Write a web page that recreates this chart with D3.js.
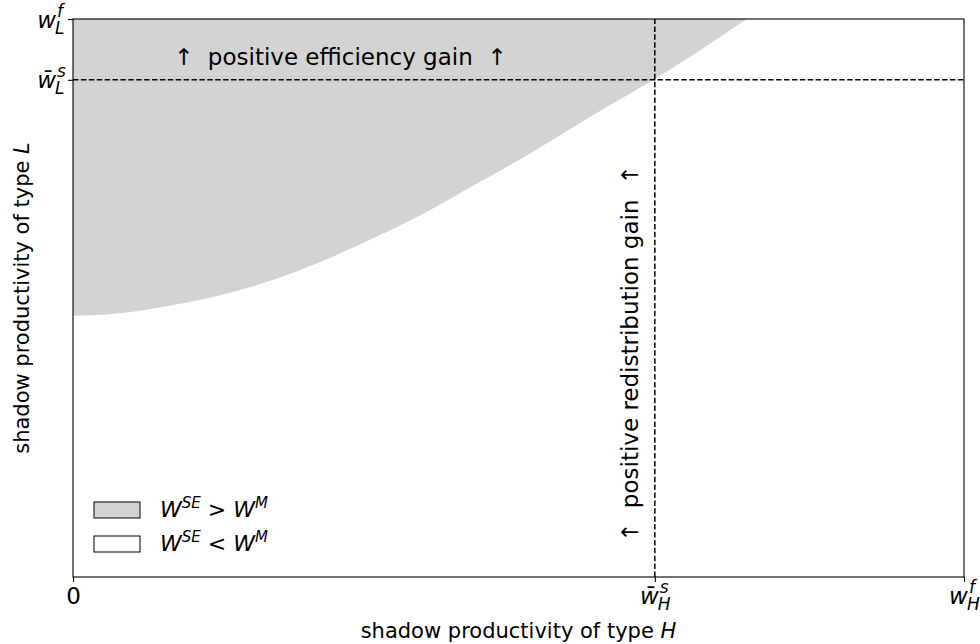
<!DOCTYPE html>
<meta charset="utf-8">
<script src="https://d3js.org/d3.v7.min.js"></script>
<style>
  body { margin: 0; background: #fff; }
  text { font-family: "DejaVu Sans", sans-serif; fill: #000; }
</style>
<div id="chart"></div>
<script>
// boundary between W^SE > W^M and W^SE < W^M
const boundaryX = [0, 0.05, 0.1, 0.15, 0.2, 0.25, 0.3, 0.35, 0.4, 0.45, 0.5, 0.55, 0.6, 0.65, 0.7, 0.756];
const boundaryY = [0.468, 0.472, 0.484, 0.499, 0.52, 0.547, 0.58, 0.617, 0.657, 0.702, 0.747, 0.795, 0.843, 0.89, 0.94, 1.0];

// ticks: [main, sup, sub, bar]
const xTicks = [0, 0.653, 1];
const xTickLabels = [["0"], ["w", "s", "H", true], ["w", "f", "H", false]];
const yTicks = [0.891, 1];
const yTickLabels = [["w", "s", "L", true], ["w", "f", "L", false]];

const wHs = 0.653, wLs = 0.891;

const legendLabels = [["SE", ">", "M"], ["SE", "<", "M"]];
const legendFill = ["#d3d3d3", "#ffffff"];

const margin = {top: 19, right: 16, bottom: 67, left: 73},
      width = 980 - margin.left - margin.right,
      height = 644 - margin.top - margin.bottom;

const svg = d3.select("#chart")
  .append("svg")
  .attr("width", 980)
  .attr("height", 644)
  .append("g")
  .attr("transform", `translate(${margin.left},${margin.top})`);

const x = d3.scaleLinear().domain([0, 1]).range([0, width]);
const y = d3.scaleLinear().domain([0, 1]).range([height, 0]);

const pts = boundaryX.map((v, i) => ({x: v, y: boundaryY[i]}));

// shaded region above the boundary
svg.append("path")
  .datum(pts)
  .attr("fill", "#d3d3d3")
  .attr("d", d3.area()
    .x(d => x(d.x))
    .y0(y(1))
    .y1(d => y(d.y))
    .curve(d3.curveMonotoneX));

// dashed reference lines
svg.append("line")
  .attr("x1", x(0)).attr("x2", x(1))
  .attr("y1", y(wLs)).attr("y2", y(wLs))
  .attr("stroke", "#000").attr("stroke-width", 1.5)
  .attr("stroke-dasharray", "5.5,2.4");
svg.append("line")
  .attr("x1", x(wHs)).attr("x2", x(wHs))
  .attr("y1", y(0)).attr("y2", y(1))
  .attr("stroke", "#000").attr("stroke-width", 1.5)
  .attr("stroke-dasharray", "5.5,2.4");

// frame
svg.append("rect")
  .attr("width", width).attr("height", height)
  .attr("fill", "none").attr("stroke", "#000").attr("stroke-width", 1.1);

// one text: w with superscript and subscript, baseline at 0, starting at x=0
function mathLabel(sel, lab) {
  const t = sel.append("text").attr("text-anchor", "start").style("font-size", "23px");
  if (lab.length === 1) {
    t.text(lab[0]);
    return t;
  }
  const [m, sup, sub, bar] = lab;
  t.append("tspan").attr("font-style", "italic").text(bar ? m + "\u0304" : m);
  const s1 = t.append("tspan").attr("font-style", "italic").style("font-size", "17px")
    .attr("dx", 1).attr("dy", -11).text(sup);
  const w1 = s1.node().getComputedTextLength();
  t.append("tspan").attr("font-style", "italic").style("font-size", "17px")
    .attr("dx", -w1 - 2).attr("dy", 17).text(sub);
  return t;
}

// x axis
const gx = svg.append("g")
  .attr("transform", `translate(0,${height})`)
  .call(d3.axisBottom(x).tickValues(xTicks).tickFormat(() => "").tickSizeOuter(0).tickSize(5));
gx.select(".domain").remove();
gx.selectAll(".tick line").attr("stroke", "#000").attr("stroke-width", 1.1);
gx.selectAll(".tick").each(function(d, i) {
  const t = mathLabel(d3.select(this), xTickLabels[i]);
  const b = t.node().getBBox();
  t.attr("x", -b.width / 2).attr("y", 27);
});

// y axis
const gy = svg.append("g")
  .call(d3.axisLeft(y).tickValues(yTicks).tickFormat(() => "").tickSizeOuter(0).tickSize(5));
gy.select(".domain").remove();
gy.selectAll(".tick line").attr("stroke", "#000").attr("stroke-width", 1.1);
gy.selectAll(".tick").each(function(d, i) {
  const t = mathLabel(d3.select(this), yTickLabels[i]);
  const b = t.node().getBBox();
  t.attr("x", -7 - b.width).attr("y", 8);
});

// axis titles
const xt = svg.append("text")
  .attr("x", width / 2)
  .attr("y", height + 61)
  .attr("text-anchor", "middle")
  .style("font-size", "21px");
xt.append("tspan").text("shadow productivity of type ");
xt.append("tspan").attr("font-style", "italic").text("H");

const yt = svg.append("text")
  .attr("transform", "rotate(-90)")
  .attr("x", -height / 2)
  .attr("y", -44)
  .attr("text-anchor", "middle")
  .style("font-size", "21px");
yt.append("tspan").text("shadow productivity of type ");
yt.append("tspan").attr("font-style", "italic").text("L");

// annotations
svg.append("text")
  .attr("x", x(0.3))
  .attr("y", 46)
  .attr("text-anchor", "middle")
  .style("font-size", "23px")
  .style("white-space", "pre")
  .text("\u2191  positive efficiency gain  \u2191");

svg.append("text")
  .attr("transform", `translate(${x(wHs) - 17},${y(0.4)}) rotate(-90)`)
  .attr("text-anchor", "middle")
  .style("font-size", "23px")
  .style("white-space", "pre")
  .text("\u2191  positive redistribution gain  \u2191");

// legend
const leg = svg.append("g").attr("transform", `translate(21,${height - 75})`);
legendLabels.forEach((l, i) => {
  const row = leg.append("g").attr("transform", `translate(0,${i * 34})`);
  row.append("rect")
    .attr("width", 46).attr("height", 16)
    .attr("fill", legendFill[i]).attr("stroke", "#000").attr("stroke-width", 1);
  const t = row.append("text").attr("x", 66).attr("y", 15).style("font-size", "22px");
  t.append("tspan").attr("font-style", "italic").text("W");
  t.append("tspan").attr("font-style", "italic").attr("font-size", "15px").attr("dy", -9).text(l[0]);
  t.append("tspan").attr("dy", 9).text(" " + l[1] + " ");
  t.append("tspan").attr("font-style", "italic").text("W");
  t.append("tspan").attr("font-style", "italic").attr("font-size", "15px").attr("dy", -9).text(l[2]);
});
</script>
